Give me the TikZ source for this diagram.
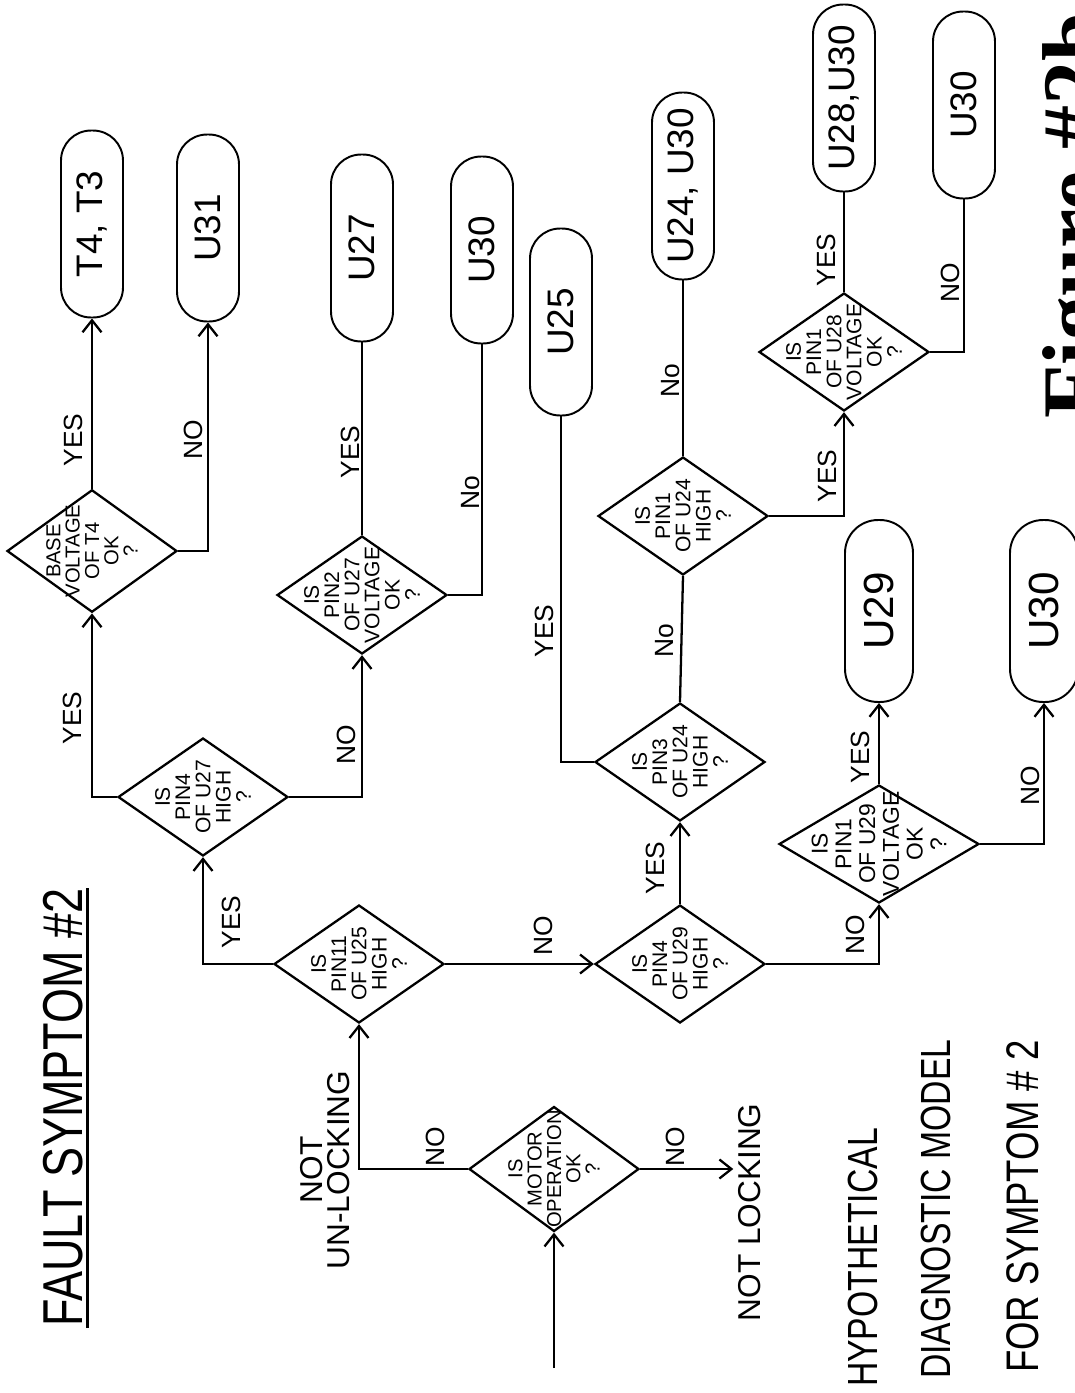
\documentclass[tikz,border=0pt]{standalone}
\usepackage{fontspec}
\newfontfamily\handfont{Liberation Sans}
\newfontfamily\narrowfont[FakeStretch=0.8]{Liberation Sans}
\newfontfamily\figfont{Liberation Serif}
\usetikzlibrary{shapes.geometric, arrows.meta}

\begin{document}
\begin{tikzpicture}[x=0.02cm, y=-0.02cm, >={Straight Barb[length=2.4mm, width=3.8mm]}, line width=1.3pt,
  decision/.style={draw, diamond, rotate=90, inner sep=-1cm, minimum width=2.36cm, minimum height=3.4cm, align=center, font=\handfont\fontsize{12}{11.5}\selectfont},
  unit/.style={draw, rectangle, rounded corners=0.6cm, rotate=90, inner sep=1pt, minimum width=3.74cm, minimum height=1.24cm, line width=1.1pt, font=\handfont\fontsize{21}{21}\selectfont},
  bigunit/.style={rounded corners=0.66cm, minimum width=3.64cm, minimum height=1.36cm, font=\handfont\fontsize{24}{24}\selectfont},
  answer/.style={rotate=90, inner sep=1pt, font=\handfont\fontsize{15}{15}\selectfont},
  note/.style={rotate=90, anchor=base west, inner sep=0pt, font=\narrowfont\fontsize{24}{24}\selectfont}]
\useasboundingbox (0,0) rectangle (1075,1393);
\clip (0,0) rectangle (1075,1393);

\node[rotate=90, anchor=base west, inner sep=0pt, font=\narrowfont\fontsize{32}{32}\selectfont] (title) at (82,1328) {FAULT SYMPTOM \#2};
\draw[line width=1.5pt] ([xshift=2pt]title.south west) -- ([xshift=2pt]title.south east);

\node[decision, minimum width=2.5cm, font=\handfont\fontsize{11.5}{11}\selectfont] (motor) at (554,1169) {IS\\MOTOR\\OPERATION\\OK\\?};
\node[decision] (pin11) at (359,964) {IS\\PIN11\\OF U25\\HIGH\\?};
\node[decision] (pin4u27) at (203,797) {IS\\PIN4\\OF U27\\HIGH\\?};
\node[decision, minimum width=2.45cm, font=\handfont\fontsize{11.5}{11}\selectfont] (baset4) at (92,551) {BASE\\VOLTAGE\\OF T4\\OK\\?};
\node[decision] (pin2u27) at (362,595) {IS\\PIN2\\OF U27\\VOLTAGE\\OK\\?};
\node[decision] (pin4u29) at (680,964) {IS\\PIN4\\OF U29\\HIGH\\?};
\node[decision] (pin3u24) at (680,762) {IS\\PIN3\\OF U24\\HIGH\\?};
\node[decision] (pin1u24) at (683,516) {IS\\PIN1\\OF U24\\HIGH\\?};
\node[decision] (pin1u28) at (844,352) {IS\\PIN1\\OF U28\\VOLTAGE\\OK\\?};
\node[decision, minimum height=4cm, font=\handfont\fontsize{13}{13.5}\selectfont] (pin1u29) at (879,844) {IS\\PIN1\\OF U29\\VOLTAGE\\OK\\?};

\node[unit] (t4t3) at (92,224) {T4, T3};
\node[unit] (u31) at (208,228) {U31};
\node[unit] (u27) at (362,248) {U27};
\node[unit] (u30a) at (482,250) {U30};
\node[unit] (u25) at (561,322) {U25};
\node[unit] (u24u30) at (683,186) {U24, U30};
\node[unit] (u28u30) at (844,98) {U28,U30};
\node[unit] (u30b) at (964,105) {U30};
\node[unit, bigunit] (u29) at (879,611) {U29};
\node[unit, bigunit] (u30c) at (1044,611) {U30};

\coordinate (start) at (554,1368);
\node[rotate=90, align=center, font=\handfont\fontsize{18}{15}\selectfont] (unlock) at (325,1170) {NOT\\UN-LOCKING};
\node[rotate=90, anchor=base west, inner sep=2pt, font=\handfont\fontsize{18}{18}\selectfont] (lock) at (760,1326) {NOT LOCKING};

\node[note] (hypo) at (877,1388) {HYPOTHETICAL};
\node[note] (diag) at (950,1380) {DIAGNOSTIC MODEL};
\node[note, font=\narrowfont\fontsize{26}{26}\selectfont] (symp) at (1038,1374) {FOR SYMPTOM \# 2};
\node[rotate=90, anchor=base west, inner sep=0pt, font=\figfont\bfseries\fontsize{50}{50}\selectfont] (figno) at (1103,420) {Figure \#2b};

\draw[->] (start) -- (motor.west);
\draw[->] (motor.north) -| (pin11.west);
\draw[->] (motor.south) -- (motor.south -| lock.north);
\draw[->] (pin11.north) -| (pin4u27.west);
\draw[->] (pin11.south) -- (pin4u29.north);
\draw[->] (pin4u27.north) -| (baset4.west);
\draw[->] (pin4u27.south) -| (pin2u27.west);
\draw[->] (baset4.east) -- (t4t3.west);
\draw[->] (baset4.south) -| (u31.west);
\draw (pin2u27.east) -- (u27.west);
\draw (pin2u27.south) -| (u30a.west);
\draw[->] (pin4u29.east) -- (pin3u24.west);
\draw[->] (pin4u29.south) -| (pin1u29.west);
\draw (pin3u24.north) -| (u25.west);
\draw (pin3u24.east) -- (pin1u24.west);
\draw (pin1u24.east) -- (u24u30.west);
\draw[->] (pin1u24.south) -| (pin1u28.west);
\draw (pin1u28.east) -- (u28u30.west);
\draw (pin1u28.south) -| (u30b.west);
\draw[->] (pin1u29.east) -- (u29.west);
\draw[->] (pin1u29.south) -| (u30c.west);

\node[answer] (t4yes) at (73,440) {YES};
\node[answer] (t4no) at (193,440) {NO};
\node[answer] (u27yes) at (350,452) {YES};
\node[answer] (u27no) at (471,493) {No};
\node[answer] (pin4yes) at (72,718) {YES};
\node[answer] (pin4no) at (346,745) {NO};
\node[answer] (pin11yes) at (231,922) {YES};
\node[answer] (pin11no) at (543,936) {NO};
\node[answer] (motorno) at (435,1147) {NO};
\node[answer] (lockno) at (675,1147) {NO};
\node[answer] (pin3yes) at (544,631) {YES};
\node[answer] (pin3no) at (665,641) {No};
\node[answer] (pin1no) at (671,381) {No};
\node[answer] (pin1yes) at (827,476) {YES};
\node[answer] (u28yes) at (826,260) {YES};
\node[answer] (u28no) at (950,283) {NO};
\node[answer] (u29ayes) at (655,868) {YES};
\node[answer] (u29ano) at (855,935) {NO};
\node[answer] (u29byes) at (860,757) {YES};
\node[answer] (u29bno) at (1030,786) {NO};
\end{tikzpicture}
\end{document}
